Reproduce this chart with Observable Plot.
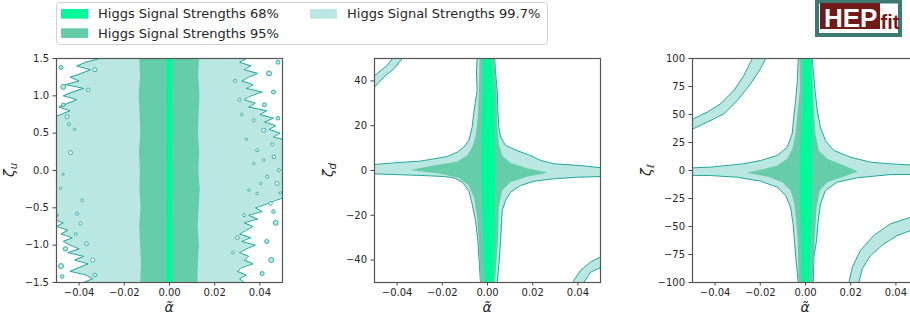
<!DOCTYPE html>
<html><head><meta charset="utf-8">
<script src="https://cdn.jsdelivr.net/npm/d3@7"></script>
<script src="https://cdn.jsdelivr.net/npm/@observablehq/plot@0.6"></script>
<style>
html,body{margin:0;padding:0;background:#fff;}
#root{position:relative;width:910px;height:321px;overflow:hidden;background:#fff;font-family:"DejaVu Sans",sans-serif;}
#root > svg{position:absolute;top:0;}
</style></head>
<body><div id="root"></div>
<script>
// ---------- data ----------
const alphaTicks = [-0.04, -0.02, 0, 0.02, 0.04];
const zuTicks = [-1.5, -1.0, -0.5, 0, 0.5, 1.0, 1.5];
const zdTicks = [-40, -20, 0, 20, 40];
const zlTicks = [-100, -75, -50, -25, 0, 25, 50, 75, 100];
const levels = ["Higgs Signal Strengths 68%", "Higgs Signal Strengths 95%", "Higgs Signal Strengths 99.7%"];
const levelColors = ["#00fa9a", "#66cdaa", "#bbe7e3"];
const lineColor = "#1fa79d";

// panel 1 (zeta_u): band edges vs zeta_u
const zuGrid = [1.5,1.45,1.4,1.35,1.3,1.25,1.2,1.15,1.1,1.05,1.0,0.95,0.9,0.85,0.8,0.75,0.7,0.65,0.6,0.55,0.5,0.45,0.4,0.35,0.3,0.25,0.2,0.15,0.1,0.05,0,-0.05,-0.1,-0.15,-0.2,-0.25,-0.3,-0.35,-0.4,-0.45,-0.5,-0.55,-0.6,-0.65,-0.7,-0.75,-0.8,-0.85,-0.9,-0.95,-1.0,-1.05,-1.1,-1.15,-1.2,-1.25,-1.3,-1.35,-1.4,-1.45,-1.5];
const zuPaleLeft = [-0.031,-0.037,-0.041,-0.035,-0.039,-0.044,-0.040,-0.046,-0.038,-0.043,-0.047,-0.041,-0.045,-0.049,-0.044,-0.048,-0.052,
  -0.052,-0.052,-0.052,-0.052,-0.052,-0.052,-0.052,-0.052,-0.052,-0.052,-0.052,-0.052,-0.052,-0.052,-0.052,-0.052,-0.052,-0.052,-0.052,-0.052,-0.052,-0.052,-0.052,-0.052,-0.052,
  -0.049,-0.052,-0.047,-0.050,-0.045,-0.048,-0.043,-0.047,-0.044,-0.040,-0.045,-0.038,-0.042,-0.036,-0.040,-0.044,-0.037,-0.034,-0.038];
const zuPaleRight = [0.034,0.031,0.036,0.033,0.039,0.035,0.032,0.037,0.034,0.041,0.036,0.033,0.038,0.035,0.043,0.040,0.046,0.042,0.047,0.044,0.049,0.046,0.052,
  0.052,0.052,0.052,0.052,0.052,0.052,0.052,0.052,0.052,0.052,0.052,0.052,0.052,0.052,0.052,
  0.047,0.043,0.038,0.041,0.035,0.039,0.033,0.037,0.034,0.031,0.036,0.032,0.038,0.034,0.031,0.035,0.033,0.037,0.032,0.030,0.034,0.031,0.033];
const zuBandGrid = [1.5,1.25,1.0,0.75,0.5,0.25,0,-0.25,-0.5,-0.75,-1.0,-1.25,-1.5];
const zu95Left = [-0.0132,-0.0128,-0.0134,-0.0130,-0.0127,-0.0133,-0.0129,-0.0131,-0.0126,-0.0132,-0.0128,-0.0124,-0.0127];
const zu95Right = [0.0133,0.0129,0.0135,0.0131,0.0128,0.0134,0.0130,0.0136,0.0131,0.0127,0.0132,0.0128,0.0126];
const zu68Left = [-0.0012,-0.0012,-0.0013,-0.0012,-0.0012,-0.0013,-0.0012,-0.0012,-0.0013,-0.0012,-0.0012,-0.0012,-0.0012];
const zu68Right = [0.0013,0.0013,0.0012,0.0013,0.0013,0.0012,0.0013,0.0013,0.0012,0.0013,0.0013,0.0013,0.0013];
// small closed contours: [alpha, zeta_u, radius]
const zuHoles = [[-0.0438,0.24,2],[-0.0482,-0.24,1.2],[-0.0386,-0.40,1.3],[-0.0409,-0.58,1.5],[-0.0394,-0.71,1.5],[-0.0367,-0.98,1.8],[-0.0453,0.72,2],[-0.0420,0.55,1.2],[-0.0470,-0.05,1],[-0.033,1.35,2],[-0.036,1.08,1.8],[-0.034,-1.2,2],[-0.033,-1.4,1.8],[-0.0445,0.62,1.5],[-0.0415,-0.85,1.4],
  [0.0373,0.674,1.5],[0.0417,0.54,2],[0.0388,0.272,1.5],[0.0462,0.183,1.8],[0.0373,0.094,1.2],[0.0432,-0.085,1.5],[0.0476,-0.174,2],[0.0388,-0.308,1.3],[0.0447,-0.442,1.8],[0.0403,-0.174,1.2],[0.0351,-0.263,1.2],[0.0484,0.004,1.5],[0.0417,0.138,1.3],[0.0455,0.35,1.5],[0.0340,0.42,1.2],[0.049,-0.3,1.2],[0.029,1.2,1.5],[0.030,-0.9,1.8],[0.028,-1.1,1.3],[0.031,0.95,1.5],[0.033,-0.6,1.4],[0.032,0.75,1.3]];
const zuIsles = [[-0.047,1.12,2.5],[-0.048,1.38,2],[-0.046,-1.05,2.2],[-0.048,-1.28,2.5],[-0.047,0.88,1.8],[-0.0475,-1.42,1.8],
  [0.044,1.3,2.5],[0.046,1.05,2],[0.042,0.88,2],[0.047,-0.7,2.5],[0.043,-0.95,2],[0.045,-1.2,2.5],[0.048,1.45,2],[0.041,-1.38,2],[0.048,0.7,1.8],[0.046,-0.55,1.8]];

// panel 2 (zeta_d): region outlines [alpha, zeta_d]
const zdOuter = [[-0.0046,53],[-0.0046,49.85],[-0.0049,44.6],[-0.0046,35.7],[-0.0055,29.8],[-0.0063,23.8],[-0.0068,19.3],[-0.0083,13.4],[-0.0105,10.4],[-0.0134,8.2],[-0.0178,6.25],[-0.0238,5.2],[-0.0296,4.2],[-0.0414,3.4],[-0.05,2.7],[-0.053,2.6],[-0.053,-1.5],[-0.05,-1.5],[-0.0385,-1.9],[-0.0296,-2.2],[-0.0190,-2.7],[-0.0149,-3.3],[-0.0112,-5.2],[-0.0083,-8.9],[-0.0068,-14.9],[-0.0053,-22.3],[-0.0043,-31.25],[-0.0037,-40.2],[-0.0031,-50.1],[-0.0031,-53],
  [0.0043,-53],[0.0043,-50.1],[0.0052,-40.2],[0.0058,-31.25],[0.0062,-23.8],[0.0065,-17.9],[0.0080,-13.4],[0.0102,-9.7],[0.0146,-6.7],[0.0205,-4.8],[0.0293,-3.7],[0.0397,-3.0],[0.0504,-2.7],[0.053,-2.7],[0.053,1.2],[0.0504,1.2],[0.0412,2.2],[0.0293,3.0],[0.0235,4.5],[0.0190,6.7],[0.0131,8.9],[0.0080,11.2],[0.0058,14.9],[0.0050,19.3],[0.0046,26.8],[0.0043,35.7],[0.0035,44.6],[0.0032,49.85],[0.0032,53],[-0.0046,53]];
const zd95 = [[-0.0035,53],[-0.0038,35.7],[-0.0043,23.8],[-0.0053,14.9],[-0.0068,10.4],[-0.0090,6.7],[-0.0134,4.0],[-0.0238,2.2],[-0.0345,0.2],[-0.0208,-1.5],[-0.0127,-3.3],[-0.0083,-6.7],[-0.0060,-11.9],[-0.0046,-20.8],[-0.0038,-31.25],[-0.0030,-53],
  [0.0031,-53],[0.0046,-31.25],[0.0050,-16.4],[0.0065,-8.9],[0.0102,-5.2],[0.0176,-2.7],[0.0268,-1.0],[0.0176,1.0],[0.0102,3.3],[0.0065,6.7],[0.0050,11.9],[0.0043,20.8],[0.0040,35.7],[0.0028,53]];
const zd68 = [[-0.0019,53],[-0.0022,35],[-0.0027,15],[-0.0028,0],[-0.0024,-15],[-0.0017,-35],[-0.0009,-53],[0.0024,-53],[0.0030,-35],[0.0033,-15],[0.0034,0],[0.0032,15],[0.0028,35],[0.0015,53]];
const zdArcTL = [[-0.053,45],[-0.05,42.4],[-0.0444,46.9],[-0.0422,49.85],[-0.041,53],[-0.037,53],[-0.0378,49.85],[-0.0414,45.4],[-0.0459,41.7],[-0.05,37.2],[-0.053,35],[-0.053,45]];
const zdArcBR = [[0.053,-37.5],[0.0504,-38.4],[0.0456,-40.9],[0.0412,-44.6],[0.0382,-49.1],[0.037,-53],[0.041,-53],[0.0426,-50.1],[0.0456,-45.4],[0.0504,-43.2],[0.053,-42.5],[0.053,-37.5]];

// panel 3 (zeta_l)
const zlOuter = [[-0.0032,105],[-0.0032,99.7],[-0.0037,77.4],[-0.0044,62.5],[-0.0052,47.6],[-0.0059,32.7],[-0.0081,20.8],[-0.0125,13.4],[-0.0199,8.9],[-0.0273,6.0],[-0.0347,4.5],[-0.0420,3.0],[-0.0497,2.4],[-0.053,2.4],[-0.053,-4.5],[-0.0497,-4.5],[-0.0420,-4.5],[-0.0302,-6.0],[-0.0199,-9.5],[-0.0125,-14.9],[-0.0088,-22.3],[-0.0066,-32.7],[-0.0055,-47.6],[-0.0049,-62.5],[-0.0043,-77.4],[-0.0032,-100.3],[-0.0030,-105],
  [0.0034,-105],[0.0034,-100.3],[0.0037,-77.4],[0.0049,-62.5],[0.0055,-47.6],[0.0066,-29.8],[0.0088,-17.9],[0.0140,-10.4],[0.0229,-6.5],[0.0376,-3.6],[0.053,-3.6],[0.053,4.5],[0.05,4.5],[0.0376,6.0],[0.0288,7.4],[0.0199,11.9],[0.0125,17.9],[0.0088,26.8],[0.0066,38.7],[0.0052,53.6],[0.0042,71.4],[0.0037,83.3],[0.0030,99.7],[0.0030,105],[-0.0032,105]];
const zl95 = [[-0.0027,105],[-0.0025,71.4],[-0.0034,53.6],[-0.0044,32.7],[-0.0059,19.3],[-0.0081,10.4],[-0.0125,4.5],[-0.0199,0.6],[-0.0260,-1.9],[-0.0170,-5.4],[-0.0103,-10.4],[-0.0066,-17.9],[-0.0049,-29.8],[-0.0040,-47.6],[-0.0034,-62.5],[-0.0030,-105],
  [0.0030,-105],[0.0040,-62.5],[0.0049,-32.7],[0.0063,-17.9],[0.0096,-10.4],[0.0170,-5.4],[0.0232,-0.8],[0.0170,4.5],[0.0096,10.4],[0.0059,17.9],[0.0044,32.7],[0.0037,53.6],[0.0034,71.4],[0.0027,105]];
const zl68 = [[-0.0013,105],[-0.0012,71],[-0.0020,35],[-0.0027,0],[-0.0024,-35],[-0.0019,-71],[-0.0017,-105],[0.0015,-105],[0.0020,-71],[0.0027,-35],[0.0030,0],[0.0030,35],[0.0029,71],[0.0019,105]];
const zlArcTL = [[-0.053,47],[-0.0497,46.1],[-0.0435,52.1],[-0.0376,59.5],[-0.0317,71.4],[-0.0273,84.8],[-0.0251,93.75],[-0.0236,99.7],[-0.023,105],[-0.0172,105],[-0.0177,99.7],[-0.0199,90.8],[-0.0243,77.4],[-0.0302,62.5],[-0.0361,50.6],[-0.0435,43.2],[-0.0497,37.2],[-0.053,36],[-0.053,47]];
const zlArcBR = [[0.0190,-105],[0.0192,-100.3],[0.0207,-86.3],[0.0243,-71.4],[0.0302,-58.0],[0.0376,-47.6],[0.0465,-41.7],[0.0509,-39.3],[0.053,-38.5],[0.053,-50.5],[0.0509,-51.2],[0.0465,-53.6],[0.0406,-58.0],[0.0347,-65.5],[0.0288,-75.9],[0.0251,-87.8],[0.0236,-100.3],[0.0234,-105],[0.0190,-105]];

// ---------- drawing ----------
const root = document.getElementById("root");
const px = d => d[0], py = d => d[1];
function poly(data, fill, stroke) {
  return Plot.line(data, {x: px, y: py, fill, stroke: stroke || "none", strokeWidth: 1, curve: "linear", clip: true});
}

function makePanel(o) {
  const svg = Plot.plot({
    width: o.width, height: 321,
    marginTop: 58, marginBottom: 39, marginLeft: o.ml, marginRight: o.mr,
    style: {fontFamily: "'DejaVu Sans', sans-serif", fontSize: "10px", color: "#262626", background: "transparent", overflow: "visible"},
    x: {domain: [-0.05, 0.05]},
    y: {domain: o.ydomain},
    ...(o.extra || {}),
    marks: [
      ...o.marks,
      Plot.axisX({ticks: alphaTicks, tickFormat: d3.format(".2f"), tickSize: 3.5, tickPadding: 3, stroke: "#444", label: null}),
      Plot.axisY({ticks: o.yticks, tickFormat: o.yfmt, tickSize: 3.5, tickPadding: 4, stroke: "#444", label: null}),
      Plot.frame({stroke: "#555", strokeWidth: 1.2})
    ]
  });
  svg.style.left = o.left + "px";
  const s = d3.select(svg);
  const fx = o.ml + (o.width - o.ml - o.mr) / 2;
  s.append("text").attr("x", fx).attr("y", 312).attr("text-anchor", "middle")
    .attr("font-size", 14).attr("font-style", "italic").attr("fill", "#262626").text("α̃");
  const t = s.append("text").attr("transform", `translate(${o.ml - o.ylabOff},170) rotate(-90)`)
    .attr("text-anchor", "middle").attr("fill", "#262626").attr("font-style", "italic");
  t.append("tspan").attr("font-size", 14).text("ζ");
  t.append("tspan").attr("font-size", 10).attr("dy", 3).text(o.sub);
  root.appendChild(svg);
}

// panel 1
const p1 = zuGrid.map((z, i) => ({z, l: zuPaleLeft[i], r: zuPaleRight[i]}));
const p1b = zuBandGrid.map((z, i) => ({z, l95: zu95Left[i], r95: zu95Right[i], l68: zu68Left[i], r68: zu68Right[i]}));
makePanel({
  left: 0, width: 300, ml: 56, mr: 18, ydomain: [-1.5, 1.5], yticks: zuTicks, yfmt: d3.format(".1f"), sub: "u", ylabOff: 42,
  extra: {r: {type: "linear", domain: [0, 3], range: [0, 3]}},
  marks: [
    Plot.areaX(p1, {y: "z", x1: "l", x2: "r", fill: levelColors[2], clip: true}),
    Plot.line(p1, {x: "l", y: "z", stroke: lineColor, strokeWidth: 1, clip: true}),
    Plot.line(p1, {x: "r", y: "z", stroke: lineColor, strokeWidth: 1, clip: true}),
    Plot.dot(zuIsles, {x: px, y: py, r: d => d[2], fill: levelColors[2], stroke: lineColor, strokeWidth: 0.9, clip: true}),
    Plot.dot(zuHoles, {x: px, y: py, r: d => d[2], fill: "#fff", stroke: lineColor, strokeWidth: 0.9, clip: true}),
    Plot.areaX(p1b, {y: "z", x1: "l95", x2: "r95", fill: levelColors[1], clip: true}),
    Plot.areaX(p1b, {y: "z", x1: "l68", x2: "r68", fill: levelColors[0], clip: true})
  ]
});

// panel 2
makePanel({
  left: 300, width: 310, ml: 74, mr: 10, ydomain: [-50, 50], yticks: zdTicks, yfmt: d3.format("d"), sub: "d", ylabOff: 41,
  marks: [
    poly(zdArcTL, levelColors[2], lineColor),
    poly(zdArcBR, levelColors[2], lineColor),
    poly(zdOuter, levelColors[2], lineColor),
    poly(zd95, levelColors[1]),
    poly(zd68, levelColors[0])
  ]
});

// panel 3
makePanel({
  left: 610, width: 320, ml: 82, mr: 12, ydomain: [-100, 100], yticks: zlTicks, yfmt: d3.format("d"), sub: "ℓ", ylabOff: 41,
  marks: [
    poly(zlArcTL, levelColors[2], lineColor),
    poly(zlArcBR, levelColors[2], lineColor),
    poly(zlOuter, levelColors[2], lineColor),
    poly(zl95, levelColors[1]),
    poly(zl68, levelColors[0])
  ]
});

// legend + logo overlay
const ov = d3.select(root).append("svg").attr("width", 910).attr("height", 50).style("left", "0px")
  .attr("font-family", "'DejaVu Sans', sans-serif");
ov.append("rect").attr("x", 56.5).attr("y", 2.5).attr("width", 491).attr("height", 42).attr("rx", 3)
  .attr("fill", "#fff").attr("fill-opacity", 0.8).attr("stroke", "#d0d0d0");
const legPos = [[61, 9], [61, 28.3], [310, 9]];
levels.forEach((lab, i) => {
  const [x, y] = legPos[i];
  ov.append("rect").attr("x", x).attr("y", y).attr("width", 27).attr("height", 9.7).attr("fill", levelColors[i]);
  ov.append("text").attr("x", x + 37).attr("y", y + 9.3).attr("font-size", 13).attr("fill", "#262626").text(lab);
});
const lg = ov.append("g");
lg.append("rect").attr("x", 817).attr("y", 1.5).attr("width", 83).attr("height", 33.5).attr("fill", "#fff").attr("stroke", "#3b7a70").attr("stroke-width", 4);
lg.append("rect").attr("x", 820).attr("y", 3).attr("width", 60).attr("height", 26).attr("fill", "#701a1a");
lg.append("text").attr("x", 824).attr("y", 26.7).attr("font-family", "'Liberation Sans', Arial, sans-serif").attr("font-weight", "bold").attr("font-size", 26).attr("fill", "#fff").text("HEP");
lg.append("text").attr("x", 880.5).attr("y", 29.3).attr("font-family", "'Liberation Sans', Arial, sans-serif").attr("font-weight", "bold").attr("font-size", 20).attr("fill", "#701a1a").text("fit");
</script>
</body></html>
